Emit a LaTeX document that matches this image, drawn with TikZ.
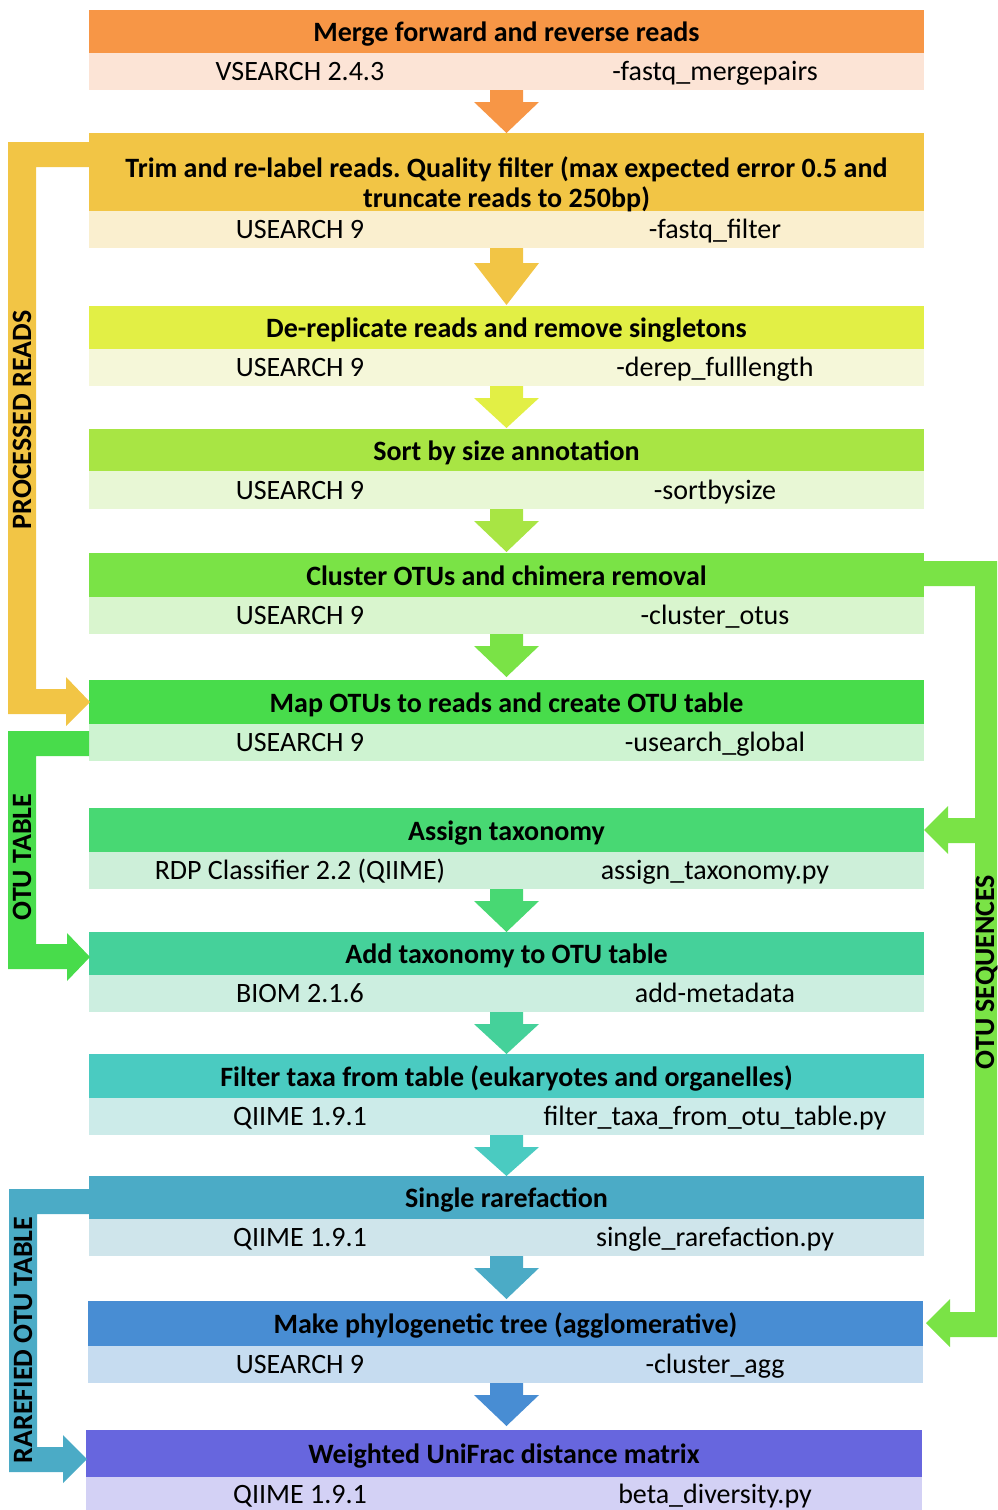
\documentclass[tikz,border=0pt]{standalone}
\usepackage{fontspec}
\setmainfont{Carlito}
\frenchspacing
\definecolor{hA}{HTML}{F79646}\definecolor{sA}{HTML}{FCE4D6}
\definecolor{hB}{HTML}{F2C545}\definecolor{sB}{HTML}{FAEFCF}
\definecolor{hC}{HTML}{E2EF45}\definecolor{sC}{HTML}{F5F7D9}
\definecolor{hD}{HTML}{A8E544}\definecolor{sD}{HTML}{E8F7D5}
\definecolor{hE}{HTML}{7AE346}\definecolor{sE}{HTML}{D9F5CE}
\definecolor{hF}{HTML}{48DC4B}\definecolor{sF}{HTML}{CEF3D1}
\definecolor{hG}{HTML}{48D873}\definecolor{sG}{HTML}{CDEFD9}
\definecolor{hH}{HTML}{45D19A}\definecolor{sH}{HTML}{CCEEE0}
\definecolor{hI}{HTML}{4ACBC1}\definecolor{sI}{HTML}{CCEBE9}
\definecolor{hJ}{HTML}{4BABC6}\definecolor{sJ}{HTML}{CFE5EB}
\definecolor{hK}{HTML}{488DD3}\definecolor{sK}{HTML}{C6DCF0}
\definecolor{hL}{HTML}{6766DE}\definecolor{sL}{HTML}{D3D1F5}
\newcommand\xl{89}
\newcommand\xr{924}
\newcommand\stagebox[9]{%
 \fill[#5] (\xl,#2) rectangle (\xr,#3);
 \fill[#6] (\xl,#3) rectangle (\xr,#4);
 \node[ttl] (#1) at ({(\xl+\xr)/2},{(#2+#3)/2+1}) {#7};
 \node[subt] (#1l) at (300,{(#3+#4)/2}) {#8};
 \node[subt] (#1r) at (715,{(#3+#4)/2}) {#9};
}
\newcommand\downblock[4]{%
 \fill[#1] (490,#2) -- (523,#2) -- (523,#3) -- (539,#3) -- (506.5,#4) -- (474,#3) -- (490,#3) -- cycle;
}
\begin{document}
\begin{tikzpicture}[x=1pt,y=-1pt,
 ttl/.style={font=\fontsize{28}{33}\selectfont\bfseries, text height=18pt, text depth=0pt, inner sep=0pt},
 subt/.style={font=\fontsize{28}{33}\selectfont, text height=18pt, text depth=0pt, inner sep=0pt},
 vlab/.style={font=\fontsize{28}{33}\selectfont\bfseries, rotate=90, text height=18pt, text depth=0pt, inner sep=0pt}]
\useasboundingbox (0,0) rectangle (997,1510);

\stagebox{s1}{10}{53}{90}{hA}{sA}{Merge forward and reverse reads}{VSEARCH 2.4.3}{-fastq\_mergepairs}
\stagebox{s2}{133}{211}{248}{hB}{sB}{}{USEARCH 9}{-fastq\_filter}
\node[ttl] (s2a) at (506.5,168) {Trim and re-label reads. Quality filter (max expected error 0.5 and};
\node[ttl] (s2b) at (506.5,198) {truncate reads to 250bp)};
\stagebox{s3}{306}{349}{386}{hC}{sC}{De-replicate reads and remove singletons}{USEARCH 9}{-derep\_fulllength}
\stagebox{s4}{429}{471}{509}{hD}{sD}{Sort by size annotation}{USEARCH 9}{-sortbysize}
\stagebox{s5}{553}{597}{634}{hE}{sE}{Cluster OTUs and chimera removal}{USEARCH 9}{-cluster\_otus}
\stagebox{s6}{680}{724}{761}{hF}{sF}{Map OTUs to reads and create OTU table}{USEARCH 9}{-usearch\_global}
\stagebox{s7}{808}{852}{889}{hG}{sG}{Assign taxonomy}{RDP Classifier 2.2 (QIIME)}{assign\_taxonomy.py}
\stagebox{s8}{932}{975}{1012}{hH}{sH}{Add taxonomy to OTU table}{BIOM 2.1.6}{add-metadata}
\stagebox{s9}{1054}{1098}{1135}{hI}{sI}{Filter taxa from table (eukaryotes and organelles)}{QIIME 1.9.1}{filter\_taxa\_from\_otu\_table.py}
\stagebox{s10}{1176}{1219}{1256}{hJ}{sJ}{Single rarefaction}{QIIME 1.9.1}{single\_rarefaction.py}
\renewcommand\xl{88}\renewcommand\xr{923}
\stagebox{s11}{1301}{1346}{1383}{hK}{sK}{Make phylogenetic tree (agglomerative)}{USEARCH 9}{-cluster\_agg}
\renewcommand\xl{86}\renewcommand\xr{922}
\stagebox{s12}{1430}{1477}{1512}{hL}{sL}{Weighted UniFrac distance matrix}{QIIME 1.9.1}{beta\_diversity.py}

\downblock{hA}{90}{102}{133}
\downblock{hB}{248}{263}{305}
\downblock{hC}{386}{398}{428}
\downblock{hD}{509}{521}{552}
\downblock{hE}{634}{646}{677}
\downblock{hG}{889}{901}{932}
\downblock{hH}{1012}{1024}{1054}
\downblock{hI}{1135}{1147}{1176}
\downblock{hJ}{1256}{1268}{1299}
\downblock{hK}{1383}{1395}{1426}

% left bent arrows
\fill[hB] (89,142) -- (8,142) -- (8,714) -- (66,714) -- (66,726) -- (90,702) -- (66,677) -- (66,689) -- (36,689) -- (36,167) -- (89,167) -- cycle;
\node[vlab] (lp) at (22,420) {PROCESSED READS};
\fill[hF] (89,731) -- (8,731) -- (8,969) -- (67,969) -- (67,981) -- (90,957) -- (67,933) -- (67,944) -- (36,944) -- (36,756) -- (89,756) -- cycle;
\node[vlab] (lo) at (22,857) {OTU TABLE};
\fill[hJ] (89,1189) -- (9,1189) -- (9,1472) -- (63,1472) -- (63,1483) -- (87,1459) -- (63,1435) -- (63,1447) -- (37,1447) -- (37,1214) -- (89,1214) -- cycle;
\node[vlab] (lr) at (23,1340) {RAREFIED OTU TABLE};
% right bent arrow
\fill[hE] (924,561) -- (997,561) -- (997,1337) -- (950,1337) -- (950,1347) -- (926,1323) -- (950,1299) -- (950,1312) -- (975,1312) -- (975,843) -- (948,843) -- (948,854) -- (924,830) -- (948,806) -- (948,818) -- (975,818) -- (975,586) -- (924,586) -- cycle;
\node[vlab] (rs) at (985,972) {OTU SEQUENCES};
\end{tikzpicture}
\end{document}
